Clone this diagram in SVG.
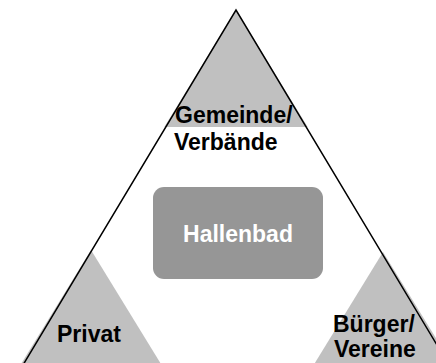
<svg xmlns="http://www.w3.org/2000/svg" width="436" height="363" viewBox="0 0 436 363">
<style>
.lbl{font-family:"Liberation Sans",Arial,sans-serif;font-weight:bold;font-size:23px;fill:#000}
.grey{fill:#c0c0c0;stroke:none}
</style>
<rect width="436" height="363" fill="#fff"/>
<g id="sectors">
<polygon id="top-sector" class="grey" points="236,10 307.7,127 164.3,127"/>
<polygon id="left-sector" class="grey" points="91,250 180,395 2,395"/>
<polygon id="right-sector" class="grey" points="383,252 472,397 294,397"/>
</g>
<g id="connectors">
<polyline points="-10,420 236,10 482,420" fill="none" stroke="#000" stroke-width="1.5"/>
</g>
<g id="node-hallenbad">
<rect x="153" y="187" width="170" height="92" rx="11" ry="11" fill="#969696"/>
<text x="238" y="242" text-anchor="middle" class="lbl" style="fill:#fff">Hallenbad</text>
</g>
<g id="node-gemeinde">
<text x="175" y="123" class="lbl">Gemeinde/</text>
<text x="174" y="150" class="lbl">Verbände</text>
</g>
<g id="node-privat">
<text x="57" y="342" class="lbl">Privat</text>
</g>
<g id="node-buerger">
<text x="333" y="332" class="lbl">Bürger/</text>
<text x="334" y="357" class="lbl">Vereine</text>
</g>
</svg>
